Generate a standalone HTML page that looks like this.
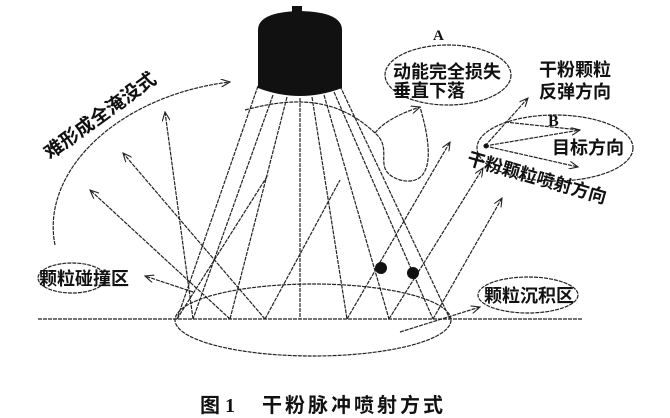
<!DOCTYPE html>
<html><head><meta charset="utf-8"><style>
body{margin:0;background:#fff;}
svg{display:block;}
text{font-family:"Liberation Serif","Noto Sans CJK SC","WenQuanYi Zen Hei",sans-serif;fill:#111;font-weight:bold;}
</style></head><body>
<svg width="670" height="418" viewBox="0 0 670 418" xmlns="http://www.w3.org/2000/svg">
<defs><marker id="ah" markerWidth="10" markerHeight="8" refX="9" refY="4" orient="auto" markerUnits="userSpaceOnUse"><path d="M0,0 L9,4 L0,8" fill="none" stroke="#222" stroke-width="1.1"/></marker></defs>
<g fill="none" stroke="#222" stroke-width="1.2" stroke-dasharray="4,1">
<line x1="38" y1="319" x2="582" y2="319"/>
<ellipse cx="313" cy="320" rx="138" ry="36"/>
<line x1="258" y1="86" x2="177" y2="319"/>
<line x1="273" y1="95" x2="193" y2="319"/>
<line x1="287" y1="97" x2="230" y2="319"/>
<line x1="300" y1="98" x2="300" y2="319"/>
<line x1="312" y1="97" x2="347" y2="319"/>
<line x1="324" y1="95" x2="389" y2="319"/>
<line x1="334" y1="92" x2="433" y2="319"/>
<line x1="340" y1="86" x2="450" y2="319"/>
<line x1="230" y1="319" x2="90" y2="190" marker-end="url(#ah)"/>
<line x1="265" y1="319" x2="123" y2="153" marker-end="url(#ah)"/>
<line x1="193" y1="319" x2="165" y2="112" marker-end="url(#ah)"/>
<line x1="193" y1="292" x2="145" y2="276" marker-end="url(#ah)"/>
<line x1="177" y1="319" x2="268" y2="175"/>
<line x1="347" y1="319" x2="450" y2="142" marker-end="url(#ah)"/>
<line x1="389" y1="319" x2="483" y2="168" marker-end="url(#ah)"/>
<line x1="433" y1="319" x2="502" y2="198" marker-end="url(#ah)"/>
<line x1="400" y1="332" x2="480" y2="307" marker-end="url(#ah)"/>
<line x1="265" y1="319" x2="340" y2="180"/>
<path d="M55,245 C40,170 120,95 230,82" marker-end="url(#ah)"/>
<path d="M245,110 C300,95 340,100 375,133 C395,150 370,170 400,180 C420,185 440,175 420,107" />
<path d="M375,133 C385,120 405,112 420,107" marker-end="url(#ah)"/>
<ellipse cx="72" cy="278" rx="34" ry="15"/>
<ellipse cx="448" cy="75" rx="63" ry="30"/>
<ellipse cx="555" cy="148" rx="78" ry="33"/>
<ellipse cx="528" cy="295" rx="50" ry="18"/>
<line x1="485" y1="146" x2="528" y2="98" marker-end="url(#ah)"/>
<line x1="485" y1="146" x2="580" y2="130" marker-end="url(#ah)"/>
<line x1="485" y1="146" x2="578" y2="167" marker-end="url(#ah)"/>
<line x1="505" y1="122" x2="580" y2="130"/>
</g>
<path d="M258,30 Q258,12 300,11 Q342,12 342,30 L342,88 Q300,104 258,88 Z" fill="#111"/>
<rect x="292" y="6" width="10" height="6" fill="#111"/>
<circle cx="381" cy="268" r="6" fill="#111"/>
<circle cx="413" cy="273" r="6" fill="#111"/>
<circle cx="486" cy="146" r="2.5" fill="#111"/>
<text x="0" y="0" font-size="19" transform="translate(50,160) rotate(-36)">难形成全淹没式</text>
<text x="39" y="285" font-size="18">颗粒碰撞区</text>
<text x="433" y="40" font-size="15">A</text>
<text x="393" y="78" font-size="18">动能完全损失</text>
<text x="393" y="97" font-size="18">垂直下落</text>
<text x="539" y="76" font-size="18">干粉颗粒</text>
<text x="539" y="98" font-size="18">反弹方向</text>
<text x="548" y="126" font-size="16">B</text>
<text x="552" y="154" font-size="18">目标方向</text>
<text x="0" y="0" font-size="18" transform="translate(466,164) rotate(16)">干粉颗粒喷射方向</text>
<text x="484" y="302" font-size="18">颗粒沉积区</text>
<text x="200" y="412" font-size="20">图 1</text>
<text x="262" y="412" font-size="20" letter-spacing="3">干粉脉冲喷射方式</text>
</svg>
</body></html>
